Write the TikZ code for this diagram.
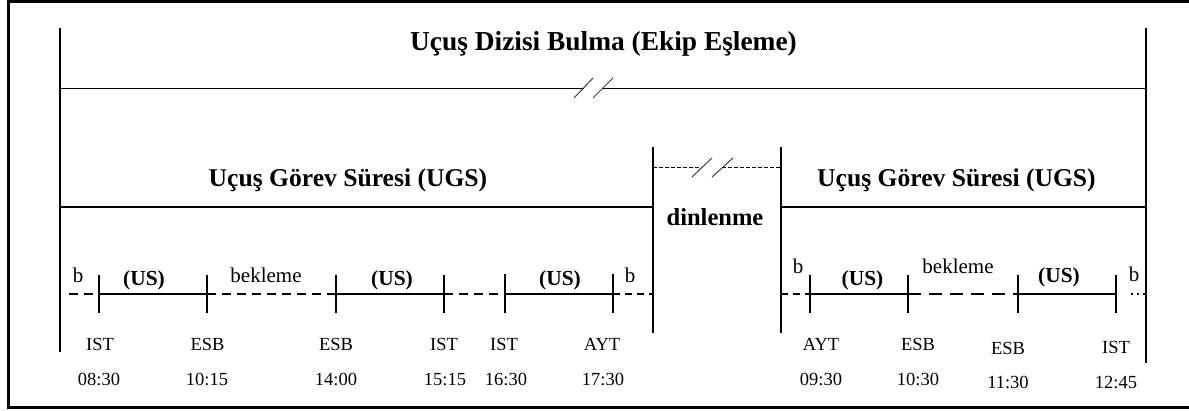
\documentclass[tikz,border=0pt]{standalone}
\usepackage{fontspec}
\setmainfont{Liberation Serif}
\begin{document}
\begin{tikzpicture}[x=1pt,y=-1pt,
  frameline/.style={line width=3pt,line cap=rect},
  vline/.style={line width=2pt},
  topline/.style={line width=1.3pt},
  ugsline/.style={line width=2pt},
  solidseg/.style={line width=2pt},
  dashseg/.style={line width=2pt,dash pattern=on 9pt off 6pt},
  longdash/.style={line width=2pt,dash pattern=on 13pt off 8pt},
  shortdash/.style={line width=2pt,dash pattern=on 7pt off 5pt},
  dotseg/.style={line width=2pt,dash pattern=on 1.5pt off 4.5pt},
  restdash/.style={line width=1pt,dash pattern=on 4pt off 2pt},
  tick/.style={line width=2.2pt},
  thintick/.style={line width=1.3pt},
  brk/.style={line width=1pt,draw=black!75},
  lbl/.style={inner sep=0pt,anchor=base},
  titlefont/.style={lbl,font=\fontsize{27.4}{30}\selectfont\bfseries},
  ugsfont/.style={lbl,font=\fontsize{25.6}{28}\selectfont\bfseries},
  restfont/.style={lbl,font=\fontsize{24.5}{27}\selectfont\bfseries},
  usfont/.style={lbl,font=\fontsize{21.4}{24}\selectfont\bfseries},
  bkfont/.style={lbl,font=\fontsize{21}{24}\selectfont},
  smallfont/.style={lbl,font=\fontsize{18.5}{21}\selectfont}
]
\useasboundingbox (0,0) rectangle (1189,410);
% outer frame
\coordinate (F1) at (8,1.5);
\coordinate (F2) at (1189,1.5);
\coordinate (F3) at (8,407.5);
\coordinate (F4) at (1189,407.5);
\draw[frameline] (F2) -- (F1) -- (F3) -- (F4);

% main verticals
\coordinate (L1) at (59.5,28);  \coordinate (L2) at (59.5,352);
\coordinate (R1) at (1145.7,28); \coordinate (R2) at (1145.7,363);
\draw[vline] (L1) -- (L2);
\draw[vline] (R1) -- (R2);

% top line with break
\coordinate (T1) at (59.5,88.5);  \coordinate (T2) at (583.5,88.5);
\coordinate (T3) at (603,88.5);   \coordinate (T4) at (1145.7,88.5);
\draw[topline] (T1) -- (T2);
\draw[topline] (T3) -- (T4);
\coordinate (S1a) at (574,98); \coordinate (S1b) at (593,78);
\coordinate (S2a) at (593,98); \coordinate (S2b) at (613,78);
\draw[brk] (S1a) -- (S1b);
\draw[brk] (S2a) -- (S2b);

\node[titlefont] (title) at (603.5,50) {Uçuş Dizisi Bulma (Ekip Eşleme)};

% rest block
\coordinate (D1) at (652.5,147); \coordinate (D2) at (652.5,333);
\coordinate (D3) at (780.5,147); \coordinate (D4) at (780.5,333);
\draw[vline] (D1) -- (D2);
\draw[vline] (D3) -- (D4);
\coordinate (Q1) at (652.5,167); \coordinate (Q2) at (702,167);
\coordinate (Q3) at (722,167);   \coordinate (Q4) at (780.5,167);
\draw[restdash] (Q1) -- (Q2);
\draw[restdash] (Q3) -- (Q4);
\coordinate (P1a) at (692,177); \coordinate (P1b) at (712,158);
\coordinate (P2a) at (712,177); \coordinate (P2b) at (733,158);
\draw[brk] (P1a) -- (P1b);
\draw[brk] (P2a) -- (P2b);
\node[restfont] (rest) at (715,225) {dinlenme};

% UGS lines
\coordinate (U1) at (59.5,207); \coordinate (U2) at (652.5,207);
\coordinate (U3) at (780.5,207); \coordinate (U4) at (1145.7,207);
\draw[ugsline] (U1) -- (U2);
\draw[ugsline] (U3) -- (U4);
\node[ugsfont] (ugsL) at (348,186.7) {Uçuş Görev Süresi (UGS)};
\node[ugsfont] (ugsR) at (956.5,186.7) {Uçuş Görev Süresi (UGS)};

% left timeline
\coordinate (a0) at (69,294);
\coordinate (a1) at (99,294);
\coordinate (a2) at (207,294);
\coordinate (a3) at (336,294);
\coordinate (a4) at (444,294);
\coordinate (a5) at (505,294);
\coordinate (a6) at (613,294);
\coordinate (a7) at (652.5,294);
\draw[dashseg] (a0) -- (a1);
\draw[solidseg] (a1) -- (a2);
\draw[dashseg] (a2) -- (a3);
\draw[solidseg] (a3) -- (a4);
\draw[dashseg] (a4) -- (a5);
\draw[solidseg] (a5) -- (a6);
\draw[shortdash] (a6) -- (a7);
\foreach \c in {a1,a2,a3,a4}{
  \draw[tick] ([yshift=-19pt]\c) -- ([yshift=19pt]\c);
}
\foreach \c in {a5,a6}{
  \draw[thintick] ([yshift=-19pt]\c) -- ([yshift=20pt]\c);
}

% right timeline
\coordinate (c0) at (780.5,294);
\coordinate (c1) at (810,294);
\coordinate (c2) at (908,294);
\coordinate (c3) at (1018,294);
\coordinate (c4) at (1116,294);
\coordinate (c5) at (1145.7,294);
\draw[shortdash] (c0) -- (c1);
\draw[solidseg] (c1) -- (c2);
\draw[longdash] (c2) -- (c3);
\draw[solidseg] (c3) -- (c4);
\draw[dotseg] ([xshift=15pt]c4) -- (c5);
\foreach \c in {c1,c2,c3,c4}{
  \draw[tick] ([yshift=-19pt]\c) -- ([yshift=19pt]\c);
}

% labels above left timeline
\node[bkfont] (bL1) at (78,282) {b};
\node[usfont] (us1) at (144,285) {(US)};
\node[bkfont] (bk1) at (266,282) {bekleme};
\node[usfont] (us2) at (392,285) {(US)};
\node[usfont] (us3) at (560,285) {(US)};
\node[bkfont] (bL2) at (630,282) {b};

% labels above right timeline
\node[bkfont] (bR1) at (798,273) {b};
\node[usfont] (us4) at (862.5,285) {(US)};
\node[bkfont] (bk2) at (958,273) {bekleme};
\node[usfont] (us5) at (1059,282) {(US)};
\node[bkfont] (bR2) at (1134,281) {b};

% airports and times
\node[smallfont] (p1) at (100,350) {IST};
\node[smallfont] (t1) at (99,385) {08:30};
\node[smallfont] (p2) at (207.5,350) {ESB};
\node[smallfont] (t2) at (207,385) {10:15};
\node[smallfont] (p3) at (336,350) {ESB};
\node[smallfont] (t3) at (336,385) {14:00};
\node[smallfont] (p4) at (444,350) {IST};
\node[smallfont] (t4) at (445,385) {15:15};
\node[smallfont] (p5) at (504,350) {IST};
\node[smallfont] (t5) at (506,385) {16:30};
\node[smallfont] (p6) at (602,350) {AYT};
\node[smallfont] (t6) at (603,385) {17:30};
\node[smallfont] (p7) at (821,350.7) {AYT};
\node[smallfont] (t7) at (821,385) {09:30};
\node[smallfont] (p8) at (918,350.7) {ESB};
\node[smallfont] (t8) at (918,385) {10:30};
\node[smallfont] (p9) at (1008,354) {ESB};
\node[smallfont] (t9) at (1008,388) {11:30};
\node[smallfont] (p10) at (1116,353) {IST};
\node[smallfont] (t10) at (1116,388) {12:45};
\end{tikzpicture}
\end{document}
